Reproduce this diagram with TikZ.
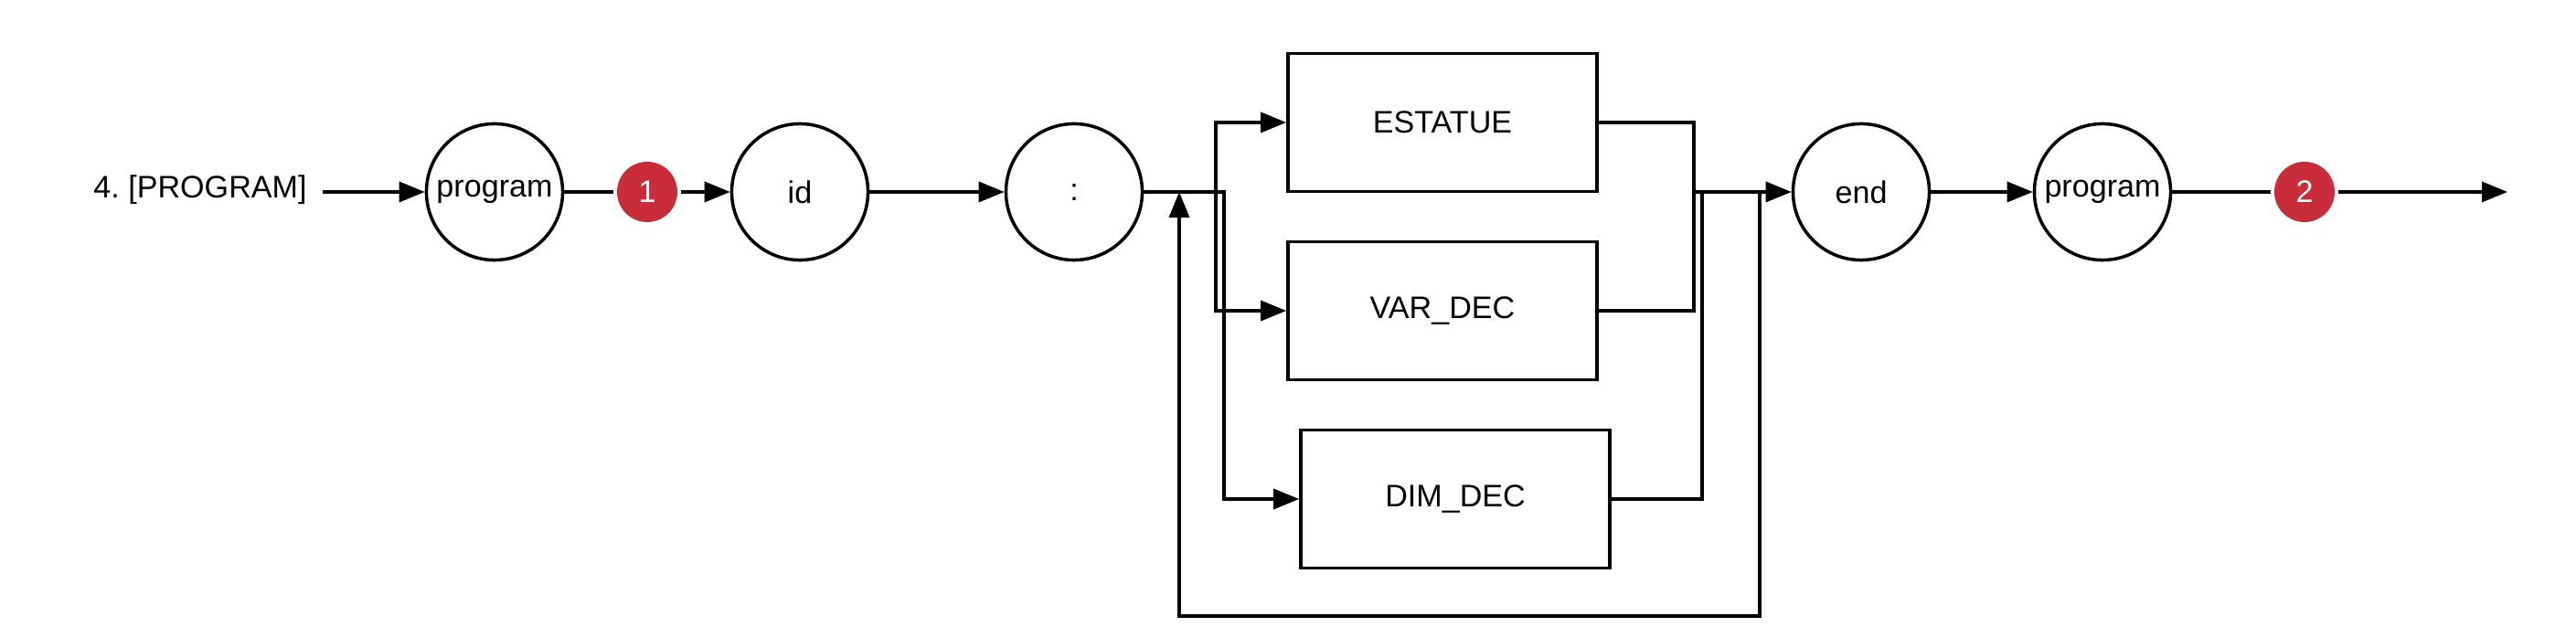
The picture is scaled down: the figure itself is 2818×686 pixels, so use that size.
\documentclass[tikz,border=0pt]{standalone}
\usepackage{fontspec}
\setmainfont{Liberation Sans}
\usetikzlibrary{calc,positioning,arrows.meta}
\definecolor{SYRed}{HTML}{C92D39}
\tikzset{
  syBase/.style={
    font=\fontsize{9.7pt}{11pt}\selectfont,
    text centered,
    line width=1pt,
    draw=black
  },
  syTerm/.style={
    syBase,
    circle,
    inner sep=1pt,
    minimum size=1.49cm
  },
  syRule/.style={
    syBase,
    rectangle,
    minimum width=3.38cm,
    minimum height=1.51cm
  },
  syBadge/.style={
    circle,
    font=\fontsize{9.7pt}{11pt}\selectfont,
    fill=SYRed,
    text=white,
    inner sep=0pt,
    outer sep=1.2pt,
    minimum size=0.66cm
  },
  syLine/.style={
    line width=1pt,
    color=black
  },
  syArrow/.style={
    syLine,
    -{Triangle[length=0.28cm,width=0.22cm]}
  }
}

\begin{document}
\begin{tikzpicture}[x=0.01cm, y=-0.01cm]
  \useasboundingbox (0,0) rectangle (2818,686);

  % main row
  \node (lbl) [font=\fontsize{9.7pt}{11pt}\selectfont, inner sep=0pt] at (219,208) {4.\ [PROGRAM]};
  \node (prog1) [syTerm] at (541,210) {program};
  \node (badge1) [syBadge] at (708,210) {1};
  \node (id) [syTerm] at (875,210) {id};
  \node (colon) [syTerm] at (1175,210) {:};
  \node (endn) [syTerm] at (2036,210) {end};
  \node (prog2) [syTerm] at (2300,210) {program};
  \node (badge2) [syBadge] at (2521,210) {2};
  \coordinate (exit) at (2743,210);

  % alternatives
  \node (estat) [syRule] at (1578,134) {ESTATUE};
  \node (vardec) [syRule] at (1578,340) {VAR\_DEC};
  \node (dimdec) [syRule] at (1592,546) {DIM\_DEC};

  \coordinate (splitA) at (1330,210);
  \coordinate (splitB) at (1339,210);
  \coordinate (mergeA) at (1853,210);
  \coordinate (mergeB) at (1862,210);
  \coordinate (loopR) at (1925,210);
  \coordinate (loopL) at (1290,210);

  \draw [syArrow] ([xshift=0.17cm]lbl.east |- prog1) -- (prog1);
  \draw [syLine] (prog1) -- (badge1);
  \draw [syArrow] (badge1) -- (id);
  \draw [syArrow] (id) -- (colon);

  \draw [syArrow] (colon.east) -- (splitB) |- (dimdec.west);
  \draw [syArrow] (splitA) |- (estat.west);
  \draw [syArrow] (splitA) |- (vardec.west);

  \draw [syLine] (estat.east) -| (mergeA);
  \draw [syLine] (vardec.east) -| (mergeA);
  \draw [syLine] (dimdec.east) -| (mergeB);
  \draw [syArrow] (mergeA) -- (endn.west);

  \draw [syArrow] (loopR) -- ++(0,464) -| (loopL);

  \draw [syArrow] (endn) -- (prog2);
  \draw [syLine] (prog2) -- (badge2);
  \draw [syArrow] (badge2) -- (exit);
\end{tikzpicture}
\end{document}
